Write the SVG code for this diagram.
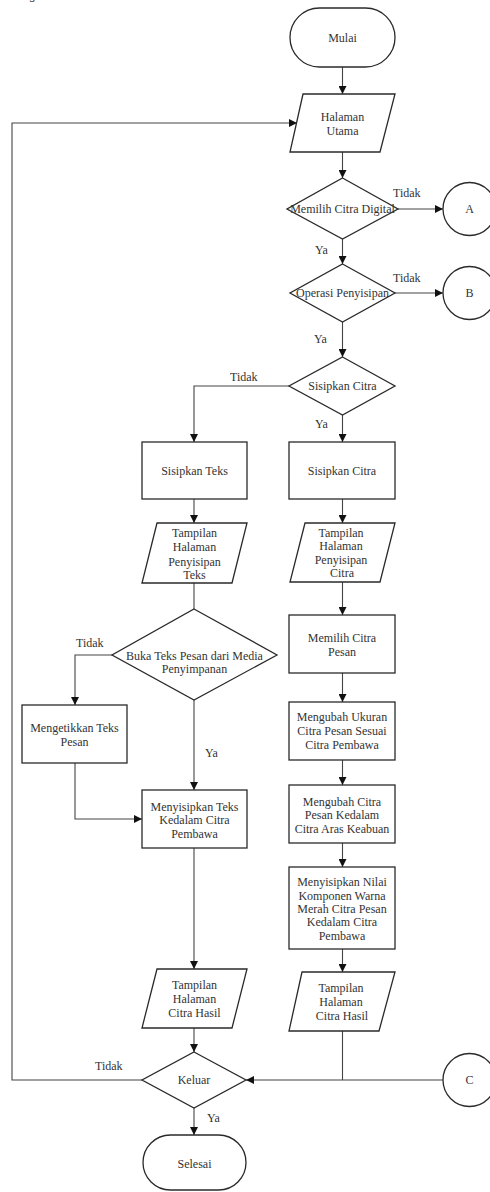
<svg xmlns="http://www.w3.org/2000/svg" width="490" height="1192" viewBox="0 0 490 1192">
<defs>
<style>
.s{fill:#fff;stroke:#2a2a2a;stroke-width:1.3}
.t{font-family:"Liberation Serif","Times New Roman",serif;font-size:12px;fill:#333;text-anchor:middle}
.l{font-family:"Liberation Serif","Times New Roman",serif;font-size:12px;fill:#333}
.c{fill:none;stroke:#444;stroke-width:1.1}
</style>
<marker id="ah" viewBox="0 0 10 10" refX="10" refY="5" markerWidth="8" markerHeight="8" markerUnits="userSpaceOnUse" orient="auto">
<path d="M0,0 L10,5 L0,10 z" fill="#111"/>
</marker>
</defs>
<rect width="490" height="1192" fill="#fff"/>
<text x="30" y="-1" class="l" font-size="16" font-style="italic">g</text>

<g id="connectors">
<path class="c" d="M342.5,67 V94" marker-end="url(#ah)"/>
<path class="c" d="M342.5,152 V178" marker-end="url(#ah)"/>
<path class="c" d="M398,209 H443" marker-end="url(#ah)"/>
<path class="c" d="M342.5,239 V264" marker-end="url(#ah)"/>
<path class="c" d="M395,293 H443" marker-end="url(#ah)"/>
<path class="c" d="M342.5,322 V357" marker-end="url(#ah)"/>
<path class="c" d="M289,386 H194 V442" marker-end="url(#ah)"/>
<path class="c" d="M342.5,415 V442" marker-end="url(#ah)"/>
<path class="c" d="M194,499 V523" marker-end="url(#ah)"/>
<path class="c" d="M342.5,499 V523" marker-end="url(#ah)"/>
<path class="c" d="M194,583 V609"/>
<path class="c" d="M342.5,582 V615" marker-end="url(#ah)"/>
<path class="c" d="M342.5,673 V702" marker-end="url(#ah)"/>
<path class="c" d="M342.5,760 V785" marker-end="url(#ah)"/>
<path class="c" d="M342.5,843 V867" marker-end="url(#ah)"/>
<path class="c" d="M342.5,949 V972" marker-end="url(#ah)"/>
<path class="c" d="M112,655 H75 V705" marker-end="url(#ah)"/>
<path class="c" d="M194,700 V790" marker-end="url(#ah)"/>
<path class="c" d="M75,763 V819 H142" marker-end="url(#ah)"/>
<path class="c" d="M194,848 V969" marker-end="url(#ah)"/>
<path class="c" d="M194,1028 V1052" marker-end="url(#ah)"/>
<path class="c" d="M342.5,1031 V1080"/>
<path class="c" d="M443,1080 H246" marker-end="url(#ah)"/>
<path class="c" d="M142,1080 H12 V123 H297" marker-end="url(#ah)"/>
<path class="c" d="M194,1108 V1135" marker-end="url(#ah)"/>
<text x="393" y="197" class="l">Tidak</text>
<text x="315" y="254" class="l">Ya</text>
<text x="393" y="282" class="l">Tidak</text>
<text x="314" y="343" class="l">Ya</text>
<text x="230" y="381" class="l">Tidak</text>
<text x="315" y="428" class="l">Ya</text>
<text x="76" y="647" class="l">Tidak</text>
<text x="205" y="757" class="l">Ya</text>
<text x="95" y="1070" class="l">Tidak</text>
<text x="207" y="1122" class="l">Ya</text>
</g>

<g id="mulai">
<rect class="s" x="290" y="8" width="105" height="59" rx="29.5"/>
<text class="t" x="342.5" y="42">Mulai</text>
</g>
<g id="halaman-utama">
<polygon class="s" points="303,94 395,94 380,152 290,152"/>
<text class="t" x="342.5" y="121">Halaman</text>
<text class="t" x="342.5" y="135">Utama</text>
</g>
<g id="memilih-citra-digital">
<polygon class="s" points="342.5,178 398,209 342.5,239 287,209"/>
<text class="t" x="342.5" y="213">Memilih Citra Digital</text>
</g>
<g id="A">
<circle class="s" cx="469.5" cy="209" r="26.5"/>
<text class="t" x="469.5" y="213">A</text>
</g>
<g id="operasi-penyisipan">
<polygon class="s" points="342.5,264 395,293 342.5,322 290,293"/>
<text class="t" x="342.5" y="297">Operasi Penyisipan</text>
</g>
<g id="B">
<circle class="s" cx="469.5" cy="293" r="26.5"/>
<text class="t" x="469.5" y="297">B</text>
</g>
<g id="sisipkan-citra-dec">
<polygon class="s" points="342.5,357 395,386 342.5,415 289,386"/>
<text class="t" x="342.5" y="390">Sisipkan Citra</text>
</g>
<g id="sisipkan-teks">
<rect class="s" x="142" y="442" width="105" height="57"/>
<text class="t" x="194.5" y="475">Sisipkan Teks</text>
</g>
<g id="sisipkan-citra">
<rect class="s" x="289" y="442" width="106" height="57"/>
<text class="t" x="342" y="475">Sisipkan Citra</text>
</g>
<g id="tampilan-penyisipan-teks">
<polygon class="s" points="157,523 247,523 232,583 142,583"/>
<text class="t" x="194.5" y="537">Tampilan</text>
<text class="t" x="194.5" y="551">Halaman</text>
<text class="t" x="194.5" y="566">Penyisipan</text>
<text class="t" x="194.5" y="579">Teks</text>
</g>
<g id="tampilan-penyisipan-citra">
<polygon class="s" points="305,523 395,523 380,582 290,582"/>
<text class="t" x="341" y="537">Tampilan</text>
<text class="t" x="341" y="550">Halaman</text>
<text class="t" x="341" y="564">Penyisipan</text>
<text class="t" x="342" y="577">Citra</text>
</g>
<g id="buka-teks">
<polygon class="s" points="194,609 277,655 194,700 112,655"/>
<text class="t" x="194.5" y="660">Buka Teks Pesan dari Media</text>
<text class="t" x="194.5" y="673">Penyimpanan</text>
</g>
<g id="mengetikkan-teks">
<rect class="s" x="22" y="705" width="105" height="58"/>
<text class="t" x="74.5" y="732">Mengetikkan Teks</text>
<text class="t" x="74.5" y="746">Pesan</text>
</g>
<g id="memilih-citra-pesan">
<rect class="s" x="289" y="615" width="106" height="58"/>
<text class="t" x="342" y="642">Memilih Citra</text>
<text class="t" x="342" y="656">Pesan</text>
</g>
<g id="mengubah-ukuran">
<rect class="s" x="289" y="702" width="106" height="58"/>
<text class="t" x="342" y="721">Mengubah Ukuran</text>
<text class="t" x="342" y="735">Citra Pesan Sesuai</text>
<text class="t" x="342" y="749">Citra Pembawa</text>
</g>
<g id="mengubah-citra">
<rect class="s" x="289" y="785" width="106" height="58"/>
<text class="t" x="342" y="806">Mengubah Citra</text>
<text class="t" x="342" y="819">Pesan Kedalam</text>
<text class="t" x="342" y="833">Citra Aras Keabuan</text>
</g>
<g id="menyisipkan-nilai">
<rect class="s" x="289" y="867" width="106" height="82"/>
<text class="t" x="342" y="886">Menyisipkan Nilai</text>
<text class="t" x="342" y="900">Komponen Warna</text>
<text class="t" x="342" y="913">Merah Citra Pesan</text>
<text class="t" x="342" y="926">Kedalam Citra</text>
<text class="t" x="342" y="940">Pembawa</text>
</g>
<g id="menyisipkan-teks">
<rect class="s" x="142" y="790" width="105" height="58"/>
<text class="t" x="194.5" y="811">Menyisipkan Teks</text>
<text class="t" x="194.5" y="824">Kedalam Citra</text>
<text class="t" x="194.5" y="838">Pembawa</text>
</g>
<g id="tampilan-hasil-kiri">
<polygon class="s" points="157,969 247,969 232,1028 142,1028"/>
<text class="t" x="194.5" y="989">Tampilan</text>
<text class="t" x="194.5" y="1003">Halaman</text>
<text class="t" x="194.5" y="1017">Citra Hasil</text>
</g>
<g id="tampilan-hasil-kanan">
<polygon class="s" points="302,972 395,972 379,1031 289,1031"/>
<text class="t" x="341" y="992">Tampilan</text>
<text class="t" x="341" y="1006">Halaman</text>
<text class="t" x="342" y="1020">Citra Hasil</text>
</g>
<g id="keluar">
<polygon class="s" points="194,1052 246,1080 194,1108 142,1080"/>
<text class="t" x="194" y="1084">Keluar</text>
</g>
<g id="C">
<circle class="s" cx="469.5" cy="1080" r="26.5"/>
<text class="t" x="469.5" y="1084">C</text>
</g>
<g id="selesai">
<rect class="s" x="143" y="1135" width="103" height="55" rx="27.5"/>
<text class="t" x="194.5" y="1168">Selesai</text>
</g>
</svg>
